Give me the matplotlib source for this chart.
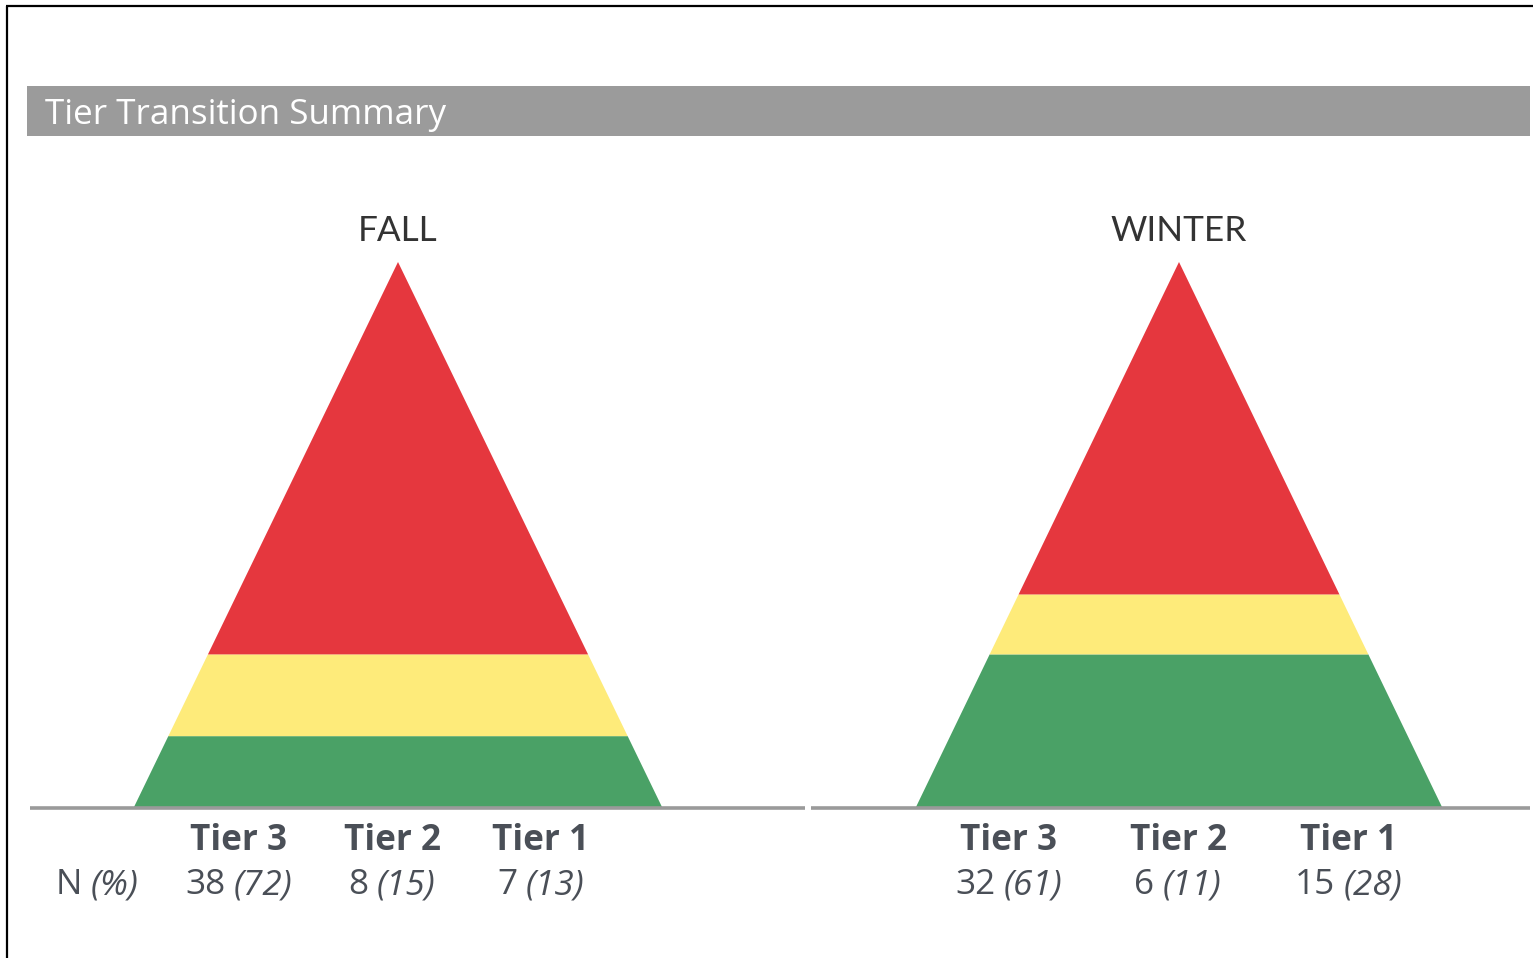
import matplotlib
matplotlib.use("Agg")
import matplotlib.pyplot as plt
from matplotlib.patches import Polygon, Rectangle

# ---- data ----
title = "Tier Transition Summary"
seasons = ["FALL", "WINTER"]
tier_labels = ["Tier 3", "Tier 2", "Tier 1"]
fall_n = [38, 8, 7]
fall_pct = [72, 15, 13]
winter_n = [32, 6, 15]
winter_pct = [61, 11, 28]
row_label_n = "N"
row_label_pct = "(%)"

colors = {"Tier 3": "#e5373e", "Tier 2": "#feeb7a", "Tier 1": "#4aa166"}

W, H = 1533, 958
fig = plt.figure(figsize=(W / 100, H / 100), dpi=100)
ax = fig.add_axes([0, 0, 1, 1])
ax.set_xlim(0, W)
ax.set_ylim(H, 0)
ax.axis("off")

# frame lines (top and left)
ax.plot([6, W], [6, 6], color="black", lw=1.6, solid_capstyle="butt")
ax.plot([7, 7], [6, H], color="black", lw=1.6, solid_capstyle="butt")

# header bar
ax.add_patch(Rectangle((27, 86), W - 27 - 3, 50, facecolor="#9b9b9b", edgecolor="none"))
ax.text(45, 115, title, color="white", fontsize=25.2, family="Open Sans",
        va="center", ha="left")

base_y = 807
apex_y = 262
height = base_y - apex_y
panels = [
    dict(name=seasons[0], cx=398, hw=264, n=fall_n, pct=fall_pct,
         line=(30, 805), label_x=[239, 392, 541]),
    dict(name=seasons[1], cx=1179, hw=263, n=winter_n, pct=winter_pct,
         line=(811, 1530), label_x=[1009, 1178, 1349]),
]

label_color = "#4a4f57"
FS = 25.3
fig.canvas.draw()
renderer = fig.canvas.get_renderer()


def width_px(t):
    return t.get_window_extent(renderer=renderer).width


def mixed_text(cx, y, a, b, size):
    t1 = ax.text(0, y, a, fontsize=size, family="Open Sans", color=label_color,
                 ha="left", va="center")
    t2 = ax.text(0, y, b, fontsize=size, family="Open Sans", style="italic",
                 color=label_color, ha="left", va="center")
    w1, w2 = width_px(t1), width_px(t2)
    gap = size * 0.34
    total = w1 + gap + w2
    left = cx - total / 2
    t1.set_x(left)
    t2.set_x(left + w1 + gap)


for p in panels:
    cx, hw = p["cx"], p["hw"]
    # order from base upward: Tier 1, Tier 2, Tier 3
    order = [2, 1, 0]
    cum = 0.0
    total = sum(p["pct"])
    for i in order:
        y0 = base_y - height * cum / total
        cum += p["pct"][i]
        y1 = base_y - height * cum / total
        w0 = hw * (y0 - apex_y) / height
        w1 = hw * (y1 - apex_y) / height
        poly = Polygon([(cx - w0, y0), (cx + w0, y0), (cx + w1, y1), (cx - w1, y1)],
                       closed=True, facecolor=colors[tier_labels[i]], edgecolor="none")
        ax.add_patch(poly)
    ax.plot(list(p["line"]), [base_y + 1, base_y + 1], color="#9a9a9a", lw=2.6,
            solid_capstyle="butt")
    ax.text(cx, 231, p["name"], fontsize=FS, family="Lato", color="#333333",
            ha="center", va="center")
    for j, lx in enumerate(p["label_x"]):
        ax.text(lx, 841, tier_labels[j], fontsize=FS, family="Open Sans",
                weight="bold", color=label_color, ha="center", va="center")
        mixed_text(lx, 885, str(p["n"][j]), "(" + str(p["pct"][j]) + ")", FS)

mixed_text(97, 885, row_label_n, row_label_pct, FS)

fig.savefig("out.png", dpi=100)
